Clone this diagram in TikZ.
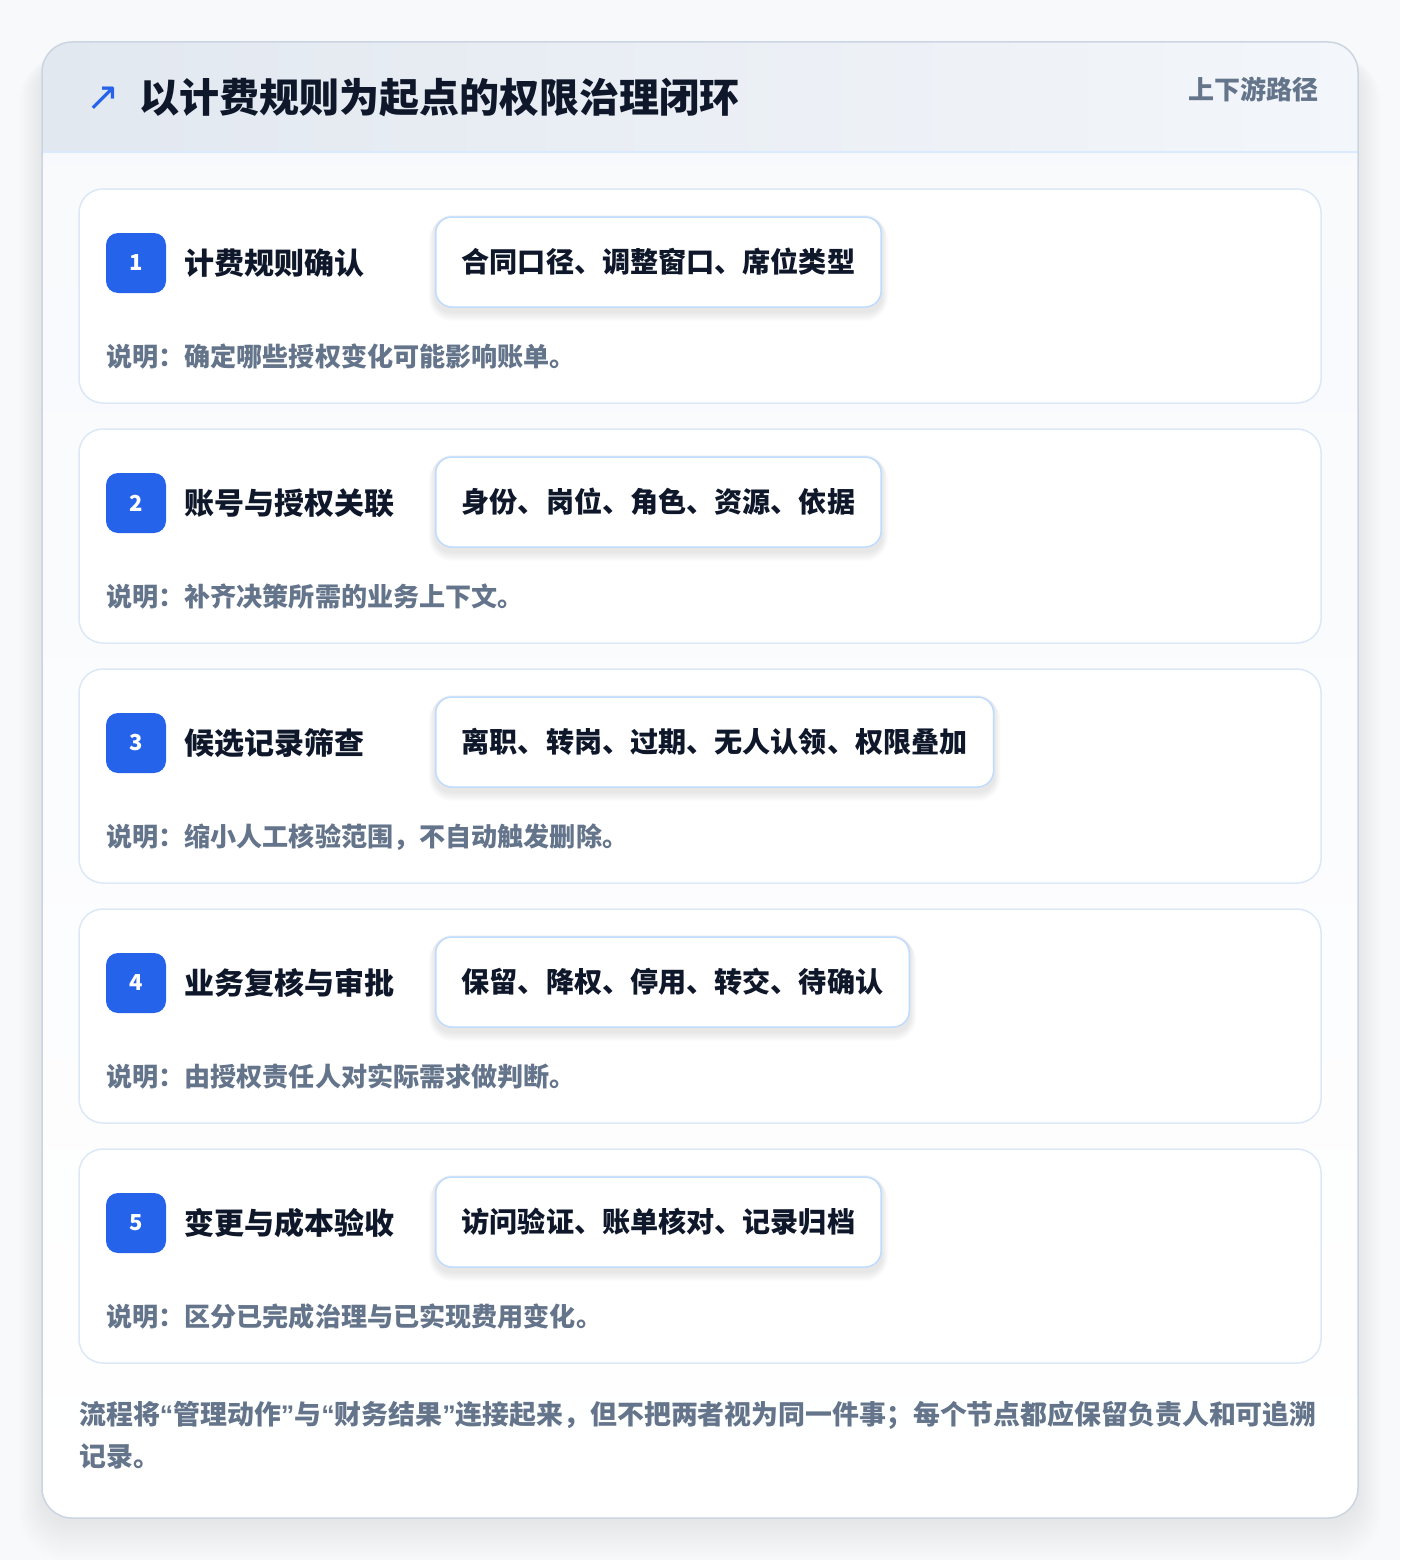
\documentclass[tikz,border=0pt]{standalone}
\usepackage{fontspec}
\setmainfont{Noto Sans CJK SC}
\newfontfamily\symfont{DejaVu Sans}
\newfontfamily\quotefont{Liberation Sans}
\definecolor{pagebg}{HTML}{F8F9FA}
\definecolor{cardborder}{HTML}{CBD5E1}
\definecolor{cardtop}{HTML}{F7F9FC}
\definecolor{hdrL}{HTML}{E2E8F0}
\definecolor{hdrR}{HTML}{F3F6FA}
\definecolor{hdrline}{HTML}{DBEAFE}
\definecolor{stepborder}{HTML}{DCE8F7}
\definecolor{tagborder}{HTML}{BFDBFE}
\definecolor{accent}{HTML}{2563EB}
\definecolor{ink}{HTML}{0F172A}
\definecolor{muted}{HTML}{64748B}
\newcommand{\myLq}{{\quotefont\bfseries “}}
\newcommand{\myRq}{{\quotefont\bfseries ”}}
\tikzset{
  stepcard/.style={draw=stepborder, line width=1.5pt, fill=white, rounded corners=24pt},
  badge/.style={fill=accent, rounded corners=12pt, minimum width=60pt, minimum height=60pt, inner sep=0pt, text=white, font=\fontsize{22}{26}\selectfont\bfseries},
  steptitle/.style={anchor=west, inner sep=0pt, text=ink, font=\fontsize{30}{36}\selectfont\bfseries},
  tagbox/.style={anchor=west, draw=tagborder, line width=1.5pt, fill=white, rounded corners=16pt, minimum height=90pt, inner xsep=26pt, text=ink, font=\fontsize{28.1}{34}\selectfont\bfseries},
  tagshadow/.style={fill=black, opacity=0.012},
  desc/.style={anchor=west, inner sep=0pt, text=muted, font=\fontsize{26.1}{32}\selectfont\bfseries},
  foot/.style={anchor=west, inner sep=0pt, text=muted, font=\fontsize{26.9}{32}\selectfont\bfseries},
}
\begin{document}
\begin{tikzpicture}[x=1pt, y=-1pt]
\useasboundingbox (0,0) rectangle (1400,1560);
\fill[pagebg] (0,0) rectangle (1400,1560);
% soft shadow of outer card
\foreach \s in {1,...,18}{
  \fill[black, opacity=0.005, rounded corners=30pt+\s pt] (42-1.3*\s,58-0.2*\s) rectangle (1358+1.3*\s,1522+2.1*\s);
}
% outer card
\shade[top color=cardtop, bottom color=white, rounded corners=30pt] (42,42) rectangle (1358,1518);
\begin{scope}
  \clip[rounded corners=30pt] (42,42) rectangle (1358,1518);
  \shade[left color=hdrL, right color=hdrR] (42,42) rectangle (1358,152);
\end{scope}
\draw[hdrline, line width=1.5pt] (42,152) -- (1358,152);
\draw[cardborder, line width=1.5pt, rounded corners=30pt] (42,42) rectangle (1358,1518);
% header
\node[text=accent, font=\symfont\fontsize{40}{44}\selectfont] (arrow) at (103,99) {↗};
\node[anchor=west, inner sep=0pt, text=ink, font=\fontsize{40}{46}\selectfont\bfseries] (title) at (139,98) {以计费规则为起点的权限治理闭环};
\node[anchor=east, inner sep=0pt, text=muted, font=\fontsize{26}{30}\selectfont\bfseries] (sub) at (1319,89) {上下游路径};
% steps
\foreach \i/\t/\tg/\d [count=\k from 0] in {
  1/计费规则确认/合同口径、调整窗口、席位类型/说明：确定哪些授权变化可能影响账单。,
  2/账号与授权关联/身份、岗位、角色、资源、依据/说明：补齐决策所需的业务上下文。,
  3/候选记录筛查/离职、转岗、过期、无人认领、权限叠加/说明：缩小人工核验范围，不自动触发删除。,
  4/业务复核与审批/保留、降权、停用、转交、待确认/说明：由授权责任人对实际需求做判断。,
  5/变更与成本验收/访问验证、账单核对、记录归档/说明：区分已完成治理与已实现费用变化。}{
  \pgfmathsetmacro{\yo}{240*\k}
  \begin{scope}[yshift=-\yo pt]
    \path[stepcard] (79,189) rectangle (1321,403);
    \node[badge] (b\i) at (136,263) {\i};
    \node[steptitle] (t\i) at (184,263) {\t};
    \node[tagbox, draw=none, fill=none, text opacity=0] (m\i) at (435,262) {\tg};
    \foreach \s in {1,...,8}{
      \fill[tagshadow, rounded corners=16pt+\s pt] ([xshift=-0.8*\s pt, yshift=2pt-0.4*\s pt]m\i.north west) rectangle ([xshift=0.8*\s pt, yshift=-4pt-1.2*\s pt]m\i.south east);
    }
    \node[tagbox] (g\i) at (435,262) {\tg};
    \node[desc] (d\i) at (106,357) {\d};
  \end{scope}
}
% footer
\node[foot] (f1) at (79,1415) {流程将\myLq 管理动作\myRq 与\myLq 财务结果\myRq 连接起来，但不把两者视为同一件事；每个节点都应保留负责人和可追溯};
\node[foot] (f2) at (79,1456) {记录。};
\end{tikzpicture}
\end{document}
